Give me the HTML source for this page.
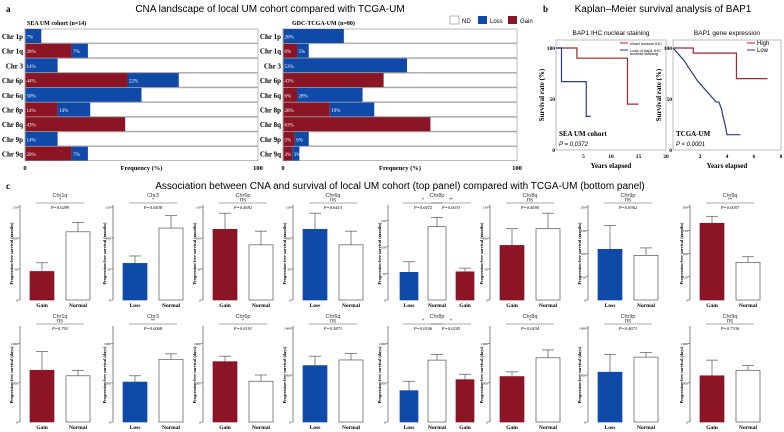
<!DOCTYPE html>
<html><head><meta charset="utf-8"><style>
body{margin:0;background:#fff;}
svg{display:block;font-family:"Liberation Serif",serif;}
.sans{font-family:"Liberation Sans",sans-serif;}
</style></head><body>
<svg id="fig" width="784" height="432" viewBox="0 0 784 432">
<text x="6" y="12" font-size="9" font-weight="bold">a</text>
<text x="270" y="12" font-size="10" text-anchor="middle" class="sans">CNA landscape of local UM cohort compared with TCGA-UM</text>
<text x="27" y="25" font-size="6" font-weight="bold">SEA UM cohort (n=14)</text>
<text x="292" y="25" font-size="6" font-weight="bold">GDC-TCGA-UM (n=80)</text>
<g class="sans" font-size="6">
<rect x="450" y="16" width="9" height="8" fill="#fff" stroke="#888" stroke-width="0.6"/><text x="462" y="23">ND</text>
<rect x="478" y="16" width="9" height="8" fill="#0f4aa8"/><text x="490" y="23">Loss</text>
<rect x="508" y="16" width="9" height="8" fill="#8b1524"/><text x="520" y="23">Gain</text>
</g>
<g id="pa"></g>
<text x="543" y="12" font-size="9" font-weight="bold">b</text>
<text x="663" y="12" font-size="10" text-anchor="middle" class="sans">Kaplan–Meier survival analysis of BAP1</text>
<g id="pb"></g>
<text x="6" y="189" font-size="9" font-weight="bold">c</text>
<text x="400" y="189" font-size="10" text-anchor="middle" class="sans">Association between CNA and survival of local UM cohort (top panel) compared with TCGA-UM (bottom panel)</text>
<g id="pc"></g>
</svg>
<script>
// Panel a data
const chrs=["Chr 1p","Chr 1q","Chr 3","Chr 6p","Chr 6q","Chr 8p","Chr 8q","Chr 9p","Chr 9q"];
const seaGain=[0,20,0,44,0,14,43,0,20];
const seaLoss=[7,7,14,22,50,14,0,14,7];
const tcgaGain=[0,6,0,43,6,20,63,5,4];
const tcgaLoss=[26,5,53,0,28,19,0,6,3];
// Panel b data
const seaIntactT=[0,3.8,3.8,13,13,15];
const seaIntactS=[100,100,90,90,45,45];
const seaLossT=[0,1,1,5.5,5.5,6.3];
const seaLossS=[100,100,67,67,33,33];
const tcgaHighT=[0,1.5,1.5,4.7,4.7,7];
const tcgaHighS=[100,100,95,95,70,70];
const tcgaLowT=[0,0.2,0.4,0.6,0.8,1.0,1.2,1.4,1.6,1.8,2.0,2.2,2.4,2.6,2.8,3.0,3.2,3.4,3.6,3.7,3.8,3.9,4.0,5.0];
const tcgaLowS=[100,97,94,91,88,84,80,76,72,68,65,62,59,56,53,50,47,47,40,33,28,22,15,15];
// Panel c data
const cTitles=["Chr1q","Chr3","Chr6p","Chr6q","Chr8p","Chr8q","Chr9p","Chr9q"];
const cCats=[["Gain","Normal"],["Loss","Normal"],["Gain","Normal"],["Loss","Normal"],["Loss","Normal","Gain"],["Gain","Normal"],["Loss","Normal"],["Gain","Normal"]];
const topMax=[150,150,150,150,175,150,200,200];
const topVals=[[46,110],[59,116],[114,89],[114,89],[52,138,53],[88,115],[109,96],[165,81]];
const topErr=[[60,125],[71,136],[140,111],[140,111],[72,155,60],[115,140],[160,112],[180,93]];
const topSig=[["*"],["*"],["ns"],["ns"],["*","**"],["ns"],["ns"],["**"]];
const topP=[["P=0.0289"],["P=0.0438"],["P=0.4692"],["P=0.6415"],["P=0.0472","P=0.0033"],["P=0.4690"],["P=0.8362"],["P=0.0057"]];
const botMax=[1200,1200,1200,1000,1200,1200,1000,1200];
const botVals=[[660,590],[510,800],[770,520],[600,660],[400,790,540],[580,820],[530,690],[590,660]];
const botErr=[[900,660],[590,870],[840,600],[700,730],[520,860,610],[640,920],[720,740],[790,720]];
const botSig=[["ns"],["**"],["*"],["ns"],["*","*"],["*"],["ns"],["ns"]];
const botP=[["P=0.792"],["P=0.0068"],["P=0.0191"],["P=0.5871"],["P=0.0106","P=0.0245"],["P=0.0434"],["P=0.4671"],["P=0.7336"]];
const topTicks=[[0,50,100,150],[0,50,100,150],[0,50,100,150],[0,50,100,150],[0,50,100,150],[0,50,100,150],[0,50,100,150,200],[0,50,100,150,200]];
const botTicks=[[0,500,1000],[0,500,1000],[0,500,1000],[0,500,1000],[0,500,1000],[0,500,1000],[0,500,1000],[0,500,1000]];

const NS="http://www.w3.org/2000/svg";
const RED="#8b1524",BLUE="#0f4aa8";
function mk(p,t,a,txt){const e=document.createElementNS(NS,t);for(const k in a)e.setAttribute(k,a[k]);if(txt!==undefined)e.textContent=txt;p.appendChild(e);return e;}

// ---- Panel a
const pa=document.getElementById('pa');
function cnaChart(x0,w,gain,loss,nm){
  const g=mk(pa,'g',{});
  
  
  const y0=29,pitch=14.7,h=14;
  const xs=v=>x0+v/100*w;
  chrs.forEach((c,i)=>{
    const y=y0+i*pitch;
    const r=mk(g,'rect',{x:x0,y:y,width:w,height:h,fill:'#fff',stroke:'#aaa','stroke-width':0.8});
    
    
    const lab=mk(g,'text',{x:x0-2,y:y+10,'font-size':7,'font-weight':'bold','text-anchor':'end'},c);
    
    
    let cx=x0;
    if(gain[i]>0){
      const b=mk(g,'rect',{x:cx,y:y,width:xs(gain[i])-x0,height:h,fill:RED});
      
      
      mk(g,'text',{x:cx+1.5,y:y+9.5,'font-size':5,fill:'#fff'},gain[i]+'%');
      cx=xs(gain[i]);
    }
    if(loss[i]>0){
      const b=mk(g,'rect',{x:cx,y:y,width:xs(loss[i])-x0,height:h,fill:BLUE});
      
      
      mk(g,'text',{x:cx+1.5,y:y+9.5,'font-size':5,fill:'#fff'},loss[i]+'%');
    }
  });
  mk(g,'line',{x1:x0,y1:y0-1,x2:x0,y2:y0+9*pitch,stroke:'#aaa','stroke-width':1});
  mk(g,'text',{x:x0,y:170,'font-size':6.5,'font-weight':'bold','text-anchor':'middle'},'0');
  mk(g,'text',{x:x0+w,y:170,'font-size':6.5,'font-weight':'bold','text-anchor':'middle'},'100');
  const t=mk(g,'text',{x:x0+w/2,y:170,'font-size':6.5,'font-weight':'bold','text-anchor':'middle'},'Frequency (%)');
  
  
}
cnaChart(25,233,seaGain,seaLoss,'sea-cna-chart');
cnaChart(283,234,tcgaGain,tcgaLoss,'tcga-cna-chart');

// ---- Panel b
const pb=document.getElementById('pb');
function km(x0,x1,tmax,ticks,series,title,cohort,p,nm,legend){
  const g=mk(pb,'g',{});
  
  
  const yT=40,yB=150;
  const xs=t=>x0+t/tmax*(x1-x0), ys=s=>yB-s/100*(yB-48);
  mk(g,'rect',{x:x0,y:yT,width:x1-x0,height:yB-yT,fill:'none',stroke:'#bbb','stroke-width':1});
  mk(g,'text',{x:(x0+x1)/2,y:35,'font-size':6.5,'text-anchor':'middle',class:'sans'},title);
  [0,50,100].forEach(v=>mk(g,'text',{x:x0-1,y:ys(v)+2,'font-size':5.5,'font-weight':'bold','text-anchor':'end'},v));
  ticks.forEach(v=>mk(g,'text',{x:xs(v),y:158,'font-size':5.5,'font-weight':'bold','text-anchor':'middle'},v));
  mk(g,'text',{x:(x0+x1)/2,y:168,'font-size':7,'font-weight':'bold','text-anchor':'middle'},'Years elapsed');
  mk(g,'text',{x:0,y:0,'font-size':7,'font-weight':'bold','text-anchor':'middle',transform:`translate(${x0-12},${(yT+yB)/2}) rotate(-90)`},'Survival rate (%)');
  series.forEach(s=>{
    const pts=s.t.map((t,i)=>xs(t)+','+ys(s.s[i])).join(' ');
    const l=mk(g,'polyline',{points:pts,fill:'none',stroke:s.c,'stroke-width':1.2});
    
    
  });
  mk(g,'text',{x:x0+3,y:136,'font-size':7,'font-weight':'bold'},cohort);
  mk(g,'text',{x:x0+3,y:146,'font-size':6,class:'sans','font-style':'italic'},p);
  legend.forEach((L,i)=>{
    mk(g,'line',{x1:x1-46+(L.dx||0),y1:43+i*7,x2:x1-38+(L.dx||0),y2:43+i*7,stroke:L.c,'stroke-width':1});
    mk(g,'text',{x:x1-36+(L.dx||0),y:45+i*7,'font-size':L.fs||4,class:'sans'},L.t);
  });
}
km(556,666,20,[5,10,15,20],[{t:seaIntactT,s:seaIntactS,c:'#a5262b',n:'intact-ihc-curve'},{t:seaLossT,s:seaLossS,c:'#2b3a86',n:'loss-ihc-curve'}],'BAP1 IHC nuclear staining','SEA UM cohort','P = 0.0372','km-sea',[{t:'Intact nuclear IHC',c:'#a5262b'},{t:'Loss of bap1 IHC',c:'#2b3a86'}]);
km(673,781,8,[2,4,6,8],[{t:tcgaHighT,s:tcgaHighS,c:'#a5262b',n:'high-expression-curve'},{t:tcgaLowT,s:tcgaLowS,c:'#2b3a86',n:'low-expression-curve'}],'BAP1 gene expression','TCGA-UM','P < 0.0001','km-tcga',[{t:'High',c:'#a5262b',dx:12,fs:6},{t:'Low',c:'#2b3a86',dx:12,fs:6}]);
mk(pb.children[0],'text',{x:630,y:55,'font-size':4,class:'sans'},'nuclear staining');

// ---- Panel c
const pc=document.getElementById('pc');
const axX=[20,113,203,293,388,490,588,690];
function barChart(i,row){
  const top=row===0;
  const vals=top?topVals[i]:botVals[i], errs=top?topErr[i]:botErr[i];
  const max=top?topMax[i]:botMax[i], ticks=top?topTicks[i]:botTicks[i];
  const sig=top?topSig[i]:botSig[i], ps=top?topP[i]:botP[i];
  const yB=top?300:422, yT=top?207:328;
  const x0=axX[i];
  const ys=v=>yB-v/max*(yB-yT);
  const g=mk(pc,'g',{});
  
  
  mk(g,'line',{x1:x0,y1:yT-2,x2:x0,y2:yB,stroke:'#333','stroke-width':0.6});
  ticks.forEach(v=>{mk(g,'line',{x1:x0-2,y1:ys(v),x2:x0,y2:ys(v),stroke:'#333','stroke-width':0.5});
    mk(g,'text',{x:x0-2,y:ys(v)+1.5,'font-size':3.5,'text-anchor':'end'},v);});
  mk(g,'text',{x:0,y:0,'font-size':4.2,'font-weight':'bold','text-anchor':'middle',transform:`translate(${x0-7},${(yT+yB)/2}) rotate(-90)`},top?'Progression-free survival (months)':'Progression-free survival (days)');
  const three=vals.length===3;
  const bw=three?18:24;
  const bx=k=>three?x0+12+k*28:x0+10+k*36;
  vals.forEach((v,k)=>{
    const cat=cCats[i][k];
    const fill=cat==='Gain'?RED:cat==='Loss'?BLUE:'#fff';
    const x=bx(k);
    const b=mk(g,'rect',{x:x,y:ys(v),width:bw,height:yB-ys(v),fill:fill,stroke:cat==='Normal'?'#555':fill,'stroke-width':0.7});
    
    
    mk(g,'line',{x1:x+bw/2,y1:ys(v),x2:x+bw/2,y2:ys(errs[k]),stroke:'#555','stroke-width':0.7});
    mk(g,'line',{x1:x+bw/2-6,y1:ys(errs[k]),x2:x+bw/2+6,y2:ys(errs[k]),stroke:'#555','stroke-width':0.7});
    mk(g,'text',{x:x+bw/2,y:yB+7,'font-size':5.5,'font-weight':'bold','text-anchor':'middle'},cat);
  });
  const cx=(bx(0)+bx(vals.length-1)+bw)/2;
  mk(g,'text',{x:cx,y:yT-10,'font-size':5.5,'text-anchor':'middle',class:'sans',fill:'#333'},cTitles[i]);
  sig.forEach((s,j)=>{
    const a=bx(j)+bw/2-6, b2=bx(j+1)+bw/2+6, m=(a+b2)/2, ly=yT-4;
    mk(g,'line',{x1:a,y1:ly,x2:b2,y2:ly,stroke:'#555','stroke-width':0.6});
    mk(g,'text',{x:m,y:ly-1.5,'font-size':s==='ns'?6:5,'text-anchor':'middle',class:'sans',fill:'#333'},s);
    mk(g,'text',{x:m,y:ly+6,'font-size':4.5,'text-anchor':'middle','font-style':'italic'},ps[j]);
  });
}
for(let i=0;i<8;i++){barChart(i,0);barChart(i,1);}
</script>
</body></html>
